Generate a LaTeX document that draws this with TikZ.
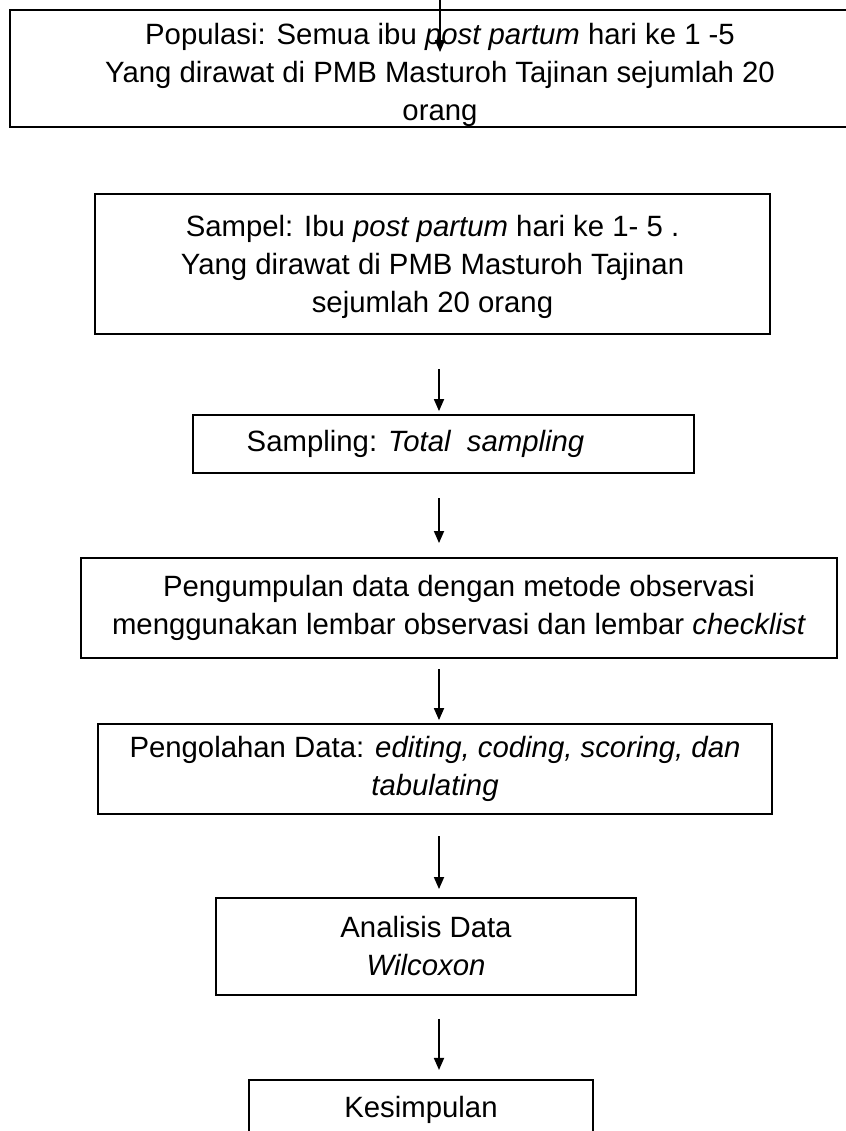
\documentclass[tikz,border=0pt]{standalone}
\usepackage{fontspec}
\setmainfont{Liberation Sans}
\usetikzlibrary{arrows.meta}

\begin{document}
\begin{tikzpicture}[x=0.375pt, y=-0.375pt,
  kotak/.style={draw, line width=0.75pt, inner sep=0pt, align=center,
    font=\fontsize{11pt}{14.25pt}\selectfont},
  panah/.style={-{Triangle[width=3.8pt, length=4.5pt]}, line width=0.5pt}]

  \newcommand\Px{0.375pt}
  \useasboundingbox (0,0) rectangle (846,1131);

  \coordinate (sumbu) at (439,0);
  \coordinate (atas) at (440,-20);
  \coordinate (ujung) at (440,52);

  \node[kotak, minimum width=860*\Px, minimum height=117*\Px] (populasi) at (440,68.5)
    {\rule{0pt}{12.5pt}Populasi: Semua ibu \textit{post partum} hari ke 1 -5\\
     Yang dirawat di PMB Masturoh Tajinan sejumlah 20\\ orang};
  \node[kotak, minimum width=675*\Px, minimum height=140*\Px] (sampel) at (432.5,264)
    {\rule{0pt}{10.2pt}Sampel: Ibu \textit{post partum} hari ke 1- 5 .\\
     Yang dirawat di PMB Masturoh Tajinan\\ sejumlah 20 orang};
  \node[kotak, minimum width=501*\Px, minimum height=58*\Px] (sampling) at (443.5,444)
    {Sampling: \textit{Total\ \ sampling}\hspace*{21pt}};
  \node[kotak, minimum width=756*\Px, minimum height=100*\Px] (kumpul) at (459,608)
    {Pengumpulan data dengan metode observasi\\
     menggunakan lembar observasi dan lembar \textit{checklist}};
  \node[kotak, minimum width=674*\Px, minimum height=90*\Px] (olah) at (435,769)
    {Pengolahan Data: \textit{editing, coding, scoring, dan}\\ \textit{tabulating}};
  \node[kotak, minimum width=420*\Px, minimum height=97*\Px] (analisis) at (426,946.5)
    {Analisis Data\\ \textit{Wilcoxon}};
  \node[kotak, minimum width=344*\Px, minimum height=60*\Px] (simpul) at (421,1110)
    {Kesimpulan};

  \draw[panah] (atas) -- (ujung); %% dari atas
  \draw[panah, shorten <=12.75pt, shorten >=1.1pt] (sampel.south -| sumbu) -- (sampling.north -| sumbu);
  \draw[panah, shorten <=9pt, shorten >=5.25pt] (sampling.south -| sumbu) -- (kumpul.north -| sumbu);
  \draw[panah, shorten <=3.75pt, shorten >=1.1pt] (kumpul.south -| sumbu) -- (olah.north -| sumbu);
  \draw[panah, shorten <=7.9pt, shorten >=3pt] (olah.south -| sumbu) -- (analisis.north -| sumbu);
  \draw[panah, shorten <=8.6pt, shorten >=3.4pt] (analisis.south -| sumbu) -- (simpul.north -| sumbu);
\end{tikzpicture}
\end{document}
